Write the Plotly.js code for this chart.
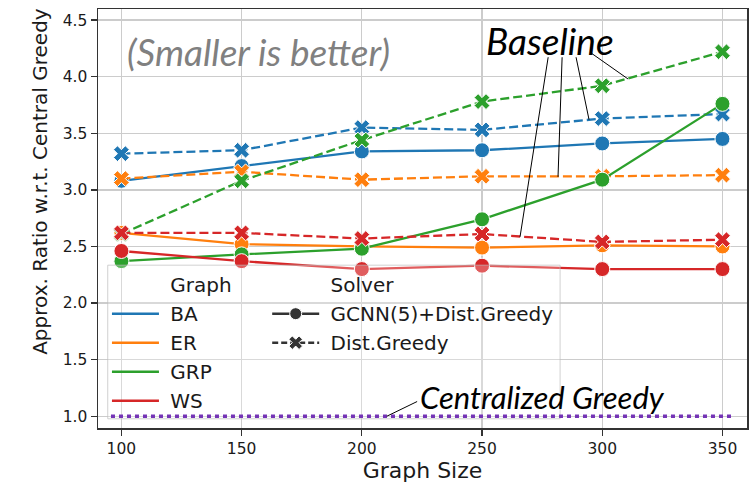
<!DOCTYPE html>
<html>
<head>
<meta charset="utf-8">
<script src="https://cdn.plot.ly/plotly-3.0.1.min.js"></script>
<style>html,body{margin:0;padding:0;background:#fff;}#chart{width:756px;height:483px;}</style>
</head>
<body>
<div id="chart"></div>
<script>
// ---- data ----
const graphSizes = [100, 150, 200, 250, 300, 350];
const graphNames = ['BA', 'ER', 'GRP', 'WS'];
const solverNames = ['GCNN(5)+Dist.Greedy', 'Dist.Greedy'];
const baGcnn  = [3.08, 3.21, 3.34, 3.35, 3.41, 3.45];
const baDist  = [3.32, 3.35, 3.55, 3.53, 3.63, 3.67];
const erGcnn  = [2.62, 2.52, 2.50, 2.49, 2.51, 2.50];
const erDist  = [3.10, 3.16, 3.09, 3.12, 3.12, 3.13];
const grpGcnn = [2.37, 2.43, 2.48, 2.74, 3.09, 3.76];
const grpDist = [2.61, 3.08, 3.44, 3.78, 3.92, 4.22];
const wsGcnn  = [2.46, 2.37, 2.30, 2.33, 2.30, 2.30];
const wsDist  = [2.62, 2.62, 2.57, 2.61, 2.54, 2.56];
const centralGreedyRatio = 1.0;
const yTicks = [1.0, 1.5, 2.0, 2.5, 3.0, 3.5, 4.0, 4.5];
const xTicks = [100, 150, 200, 250, 300, 350];

const colors = {BA: '#1f77b4', ER: '#ff7f0e', GRP: '#2ca02c', WS: '#d62728'};
const series = {
  BA: [baGcnn, baDist], ER: [erGcnn, erDist],
  GRP: [grpGcnn, grpDist], WS: [wsGcnn, wsDist]
};

const traces = [];
graphNames.forEach(g => {
  series[g].forEach((vals, si) => {
    traces.push({
      x: graphSizes, y: vals, type: 'scatter', mode: 'lines+markers',
      showlegend: false, hoverinfo: 'skip',
      line: {color: colors[g], width: 2.3, dash: si === 0 ? 'solid' : '9px,4px'},
      marker: {symbol: si === 0 ? 'circle' : 'x', size: si === 0 ? 15 : 14,
               color: colors[g], line: {color: '#ffffff', width: 1}}
    });
  });
});

// legend entries (dummy traces, headers have invisible symbols)
const pad = '\u00a0';
const blank = {x: [null], y: [null], type: 'scatter', hoverinfo: 'skip'};
traces.push(Object.assign({}, blank, {name: pad + 'Graph', mode: 'lines', legend: 'legend', legendgroup: 'g0',
  line: {color: 'rgba(0,0,0,0)', width: 2}}));
graphNames.forEach((g, i) => traces.push(Object.assign({}, blank, {name: pad + g, mode: 'lines', legend: 'legend',
  legendgroup: 'g' + (i + 1), line: {color: colors[g], width: 2.5}})));
traces.push(Object.assign({}, blank, {name: pad + 'Solver', mode: 'lines', legend: 'legend2', legendgroup: 's0',
  line: {color: 'rgba(0,0,0,0)', width: 2}}));
solverNames.forEach((s, i) => traces.push(Object.assign({}, blank, {name: pad + s, mode: 'lines+markers',
  legend: 'legend2', legendgroup: 's' + (i + 1),
  line: {color: '#333333', width: 2.5, dash: i === 0 ? 'solid' : '6px,3px'},
  marker: {symbol: i === 0 ? 'circle' : 'x', size: 12, color: '#333333', line: {color: '#fff', width: 1}}})));

const legendFont = {family: 'DejaVu Sans', size: 20, color: '#1a1a1a'};
const italic = (size, color) => ({family: 'Lato, "Open Sans", sans-serif', size: size, color: color, style: 'italic'});

const layout = {
  width: 756, height: 483,
  margin: {l: 98, r: 9, t: 9, b: 55},
  paper_bgcolor: '#ffffff', plot_bgcolor: '#ffffff',
  font: {family: 'DejaVu Sans', color: '#1a1a1a'},
  xaxis: {
    range: [90.26, 360.2], tickvals: xTicks, ticktext: xTicks.map(String),
    showgrid: true, gridcolor: '#cccccc', gridwidth: 1.3, zeroline: false,
    showline: true, mirror: true, linecolor: '#333333', linewidth: 1.5,
    ticks: 'outside', ticklen: 6, tickwidth: 1.3, tickcolor: '#333333',
    tickfont: {family: 'DejaVu Sans', size: 15.5, color: '#1a1a1a'},
    title: {text: 'Graph Size', font: {family: 'DejaVu Sans', size: 22, color: '#1a1a1a'}, standoff: 8}
  },
  yaxis: {
    range: [0.896, 4.598], tickvals: yTicks, ticktext: yTicks.map(v => v.toFixed(1)),
    showgrid: true, gridcolor: '#cccccc', gridwidth: 1.3, zeroline: false,
    showline: true, mirror: true, linecolor: '#333333', linewidth: 1.5,
    ticks: 'outside', ticklen: 6, tickwidth: 1.3, tickcolor: '#333333',
    tickfont: {family: 'DejaVu Sans', size: 15.5, color: '#1a1a1a'}
  },
  legend: {
    x: 0.0138, y: 0.3886, xanchor: 'left', yanchor: 'top', bgcolor: 'rgba(0,0,0,0)',
    font: legendFont, traceorder: 'grouped', tracegroupgap: 0, itemwidth: 47
  },
  legend2: {
    x: 0.2607, y: 0.3886, xanchor: 'left', yanchor: 'top', bgcolor: 'rgba(0,0,0,0)',
    font: legendFont, traceorder: 'grouped', tracegroupgap: 0, itemwidth: 47
  },
  shapes: [
    {type: 'rect', xref: 'paper', yref: 'paper', x0: 0.015, x1: 0.712, y0: 0.022, y1: 0.3886,
     layer: 'above', fillcolor: 'rgba(255,255,255,0.25)', line: {color: 'rgba(190,190,190,0.7)', width: 1}},
    {type: 'line', xref: 'x domain', yref: 'y', x0: 0.02, x1: 0.98, y0: centralGreedyRatio, y1: centralGreedyRatio,
     layer: 'above', line: {color: '#7434b6', width: 3.5, dash: '4px,4px'}},
    // connectors for "Baseline"
    {type: 'line', xref: 'x', yref: 'y', x0: 277.5, y0: 4.172, x1: 265.8, y1: 2.585, layer: 'above', line: {color: '#000', width: 1}},
    {type: 'line', xref: 'x', yref: 'y', x0: 283.3, y0: 4.172, x1: 281.6, y1: 3.115, layer: 'above', line: {color: '#000', width: 1}},
    {type: 'line', xref: 'x', yref: 'y', x0: 289.1, y0: 4.172, x1: 294.5, y1: 3.62, layer: 'above', line: {color: '#000', width: 1}},
    {type: 'line', xref: 'x', yref: 'y', x0: 294.9, y0: 4.216, x1: 310.7, y1: 3.98, layer: 'above', line: {color: '#000', width: 1}},
    // connector for "Centralized Greedy"
    {type: 'line', xref: 'x', yref: 'y', x0: 210.4, y0: 1.0, x1: 223.0, y1: 1.13, layer: 'above', line: {color: '#000', width: 1}}
  ],
  annotations: [
    {xref: 'paper', yref: 'paper', x: -0.0884, y: 0.589, xanchor: 'center', yanchor: 'middle', showarrow: false,
     textangle: -90, text: 'Approx. Ratio w.r.t. Central Greedy', font: {family: 'DejaVu Sans', size: 20, color: '#1a1a1a'}},
    {xref: 'x', yref: 'y', x: 101.4, y: 4.225, xanchor: 'left', yanchor: 'middle', showarrow: false,
     text: '(Smaller is better)', font: italic(37, '#808080')},
    {xref: 'x', yref: 'y', x: 278.1, y: 4.323, xanchor: 'center', yanchor: 'middle', showarrow: false,
     text: 'Baseline', font: italic(37, '#000000')},
    {xref: 'x', yref: 'y', x: 223.2, y: 1.17, xanchor: 'left', yanchor: 'middle', showarrow: false,
     text: 'Centralized Greedy', font: italic(31, '#000000')}
  ]
};

Plotly.newPlot('chart', traces, layout, {displayModeBar: false, staticPlot: true});
</script>
</body>
</html>
